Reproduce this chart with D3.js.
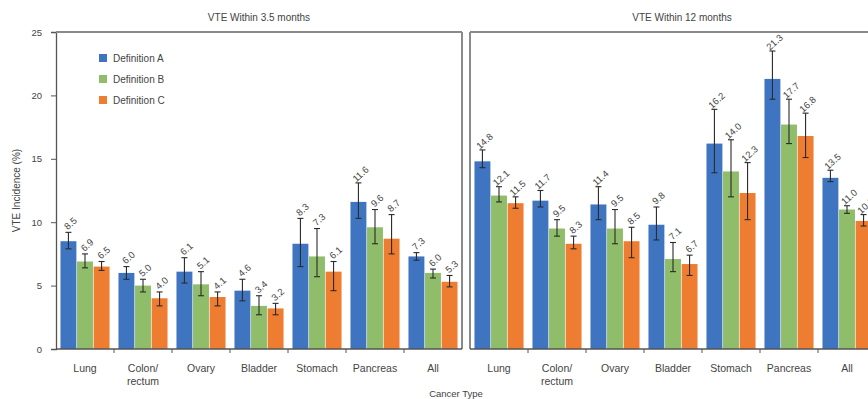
<!DOCTYPE html>
<html>
<head>
<meta charset="utf-8">
<script src="https://cdn.jsdelivr.net/npm/d3@7"></script>
<style>
  html, body { margin: 0; padding: 0; background: #fff; }
  svg { display: block; font-family: "Liberation Sans", Arial, sans-serif; }
</style>
</head>
<body>
<svg id="chart" width="868" height="399"></svg>
<script>
// Cancer types along the x axis
const categories = ["Lung", "Colon/\nrectum", "Ovary", "Bladder", "Stomach", "Pancreas", "All"];
const definitions = ["Definition A", "Definition B", "Definition C"];
const panelTitles = ["VTE Within 3.5 months", "VTE Within 12 months"];
const yTicks = [0, 5, 10, 15, 20, 25];

// VTE incidence (%) within 3.5 months, with 95% CI bounds
const m35A   = [8.5, 6.0, 6.1, 4.6, 8.3, 11.6, 7.3];
const m35ALo = [7.9, 5.5, 5.2, 3.8, 6.5, 10.3, 7.0];
const m35AHi = [9.2, 6.5, 7.2, 5.5, 10.3, 13.1, 7.6];
const m35B   = [6.9, 5.0, 5.1, 3.4, 7.3, 9.6, 6.0];
const m35BLo = [6.4, 4.5, 4.2, 2.7, 5.7, 8.3, 5.6];
const m35BHi = [7.5, 5.5, 6.1, 4.2, 9.5, 11.0, 6.3];
const m35C   = [6.5, 4.0, 4.1, 3.2, 6.1, 8.7, 5.3];
const m35CLo = [6.2, 3.4, 3.4, 2.7, 4.6, 7.5, 4.9];
const m35CHi = [6.9, 4.5, 4.5, 3.6, 6.9, 10.6, 5.8];

// VTE incidence (%) within 12 months, with 95% CI bounds
const m12A   = [14.8, 11.7, 11.4, 9.8, 16.2, 21.3, 13.5];
const m12ALo = [14.3, 11.2, 10.2, 8.6, 13.9, 19.7, 13.2];
const m12AHi = [15.7, 12.5, 12.8, 11.2, 18.9, 23.5, 14.1];
const m12B   = [12.1, 9.5, 9.5, 7.1, 14.0, 17.7, 11.0];
const m12BLo = [11.6, 8.9, 8.3, 6.1, 12.0, 16.2, 10.7];
const m12BHi = [12.8, 10.2, 11.0, 8.4, 16.5, 19.7, 11.3];
const m12C   = [11.5, 8.3, 8.5, 6.7, 12.3, 16.8, 10.1];
const m12CLo = [11.1, 7.9, 7.2, 5.8, 10.2, 15.1, 9.7];
const m12CHi = [12.0, 8.9, 9.6, 7.4, 14.7, 18.6, 10.6];

const colors = ["#3f74c0", "#8fbd6a", "#ee7d32"];

// assemble per-panel series from the arrays above
const panels = [
  { title: panelTitles[0], series: [
      { v: m35A, lo: m35ALo, hi: m35AHi },
      { v: m35B, lo: m35BLo, hi: m35BHi },
      { v: m35C, lo: m35CLo, hi: m35CHi } ] },
  { title: panelTitles[1], series: [
      { v: m12A, lo: m12ALo, hi: m12AHi },
      { v: m12B, lo: m12BLo, hi: m12BHi },
      { v: m12C, lo: m12CLo, hi: m12CHi } ] }
];

const svg = d3.select("#chart");
const plotTop = 32, plotBottom = 349;
const panelX = [[56, 462], [470, 876]];

const y = d3.scaleLinear().domain([0, 25]).range([plotBottom, plotTop]);

// y axis (left panel only)
const yAxis = svg.append("g")
  .attr("transform", `translate(${panelX[0][0]},0)`)
  .call(d3.axisLeft(y).tickValues(yTicks).tickSize(5).tickPadding(9).tickFormat(d3.format("d")));
yAxis.select(".domain").attr("stroke", "#555").attr("stroke-width", 1.3);
yAxis.selectAll(".tick line").attr("stroke", "#555");
yAxis.selectAll(".tick text").attr("fill", "#444").style("font-size", "9.5px");

svg.append("text")
  .attr("transform", `translate(20,${(plotTop + plotBottom) / 2}) rotate(-90)`)
  .attr("text-anchor", "middle")
  .attr("fill", "#444")
  .style("font-size", "10px")
  .text("VTE Incidence (%)");

panels.forEach((panel, pi) => {
  const [x0, x1] = panelX[pi];
  const x = d3.scaleBand().domain(d3.range(categories.length)).range([x0, x1]).paddingInner(0).paddingOuter(0);
  const xs = d3.scaleBand().domain(d3.range(definitions.length)).range([0, x.bandwidth()]).paddingOuter(0.27).paddingInner(0.04);

  const g = svg.append("g");

  // panel frame: top and side borders
  g.append("line").attr("x1", x0).attr("x2", x1).attr("y1", plotTop).attr("y2", plotTop)
    .attr("stroke", "#8a8a8a").attr("stroke-width", 2);
  if (pi === 0) {
    g.append("line").attr("x1", x1).attr("x2", x1).attr("y1", plotTop).attr("y2", plotBottom)
      .attr("stroke", "#8a8a8a").attr("stroke-width", 2);
  } else {
    g.append("line").attr("x1", x0).attr("x2", x0).attr("y1", plotTop).attr("y2", plotBottom)
      .attr("stroke", "#8a8a8a").attr("stroke-width", 2);
  }

  // bars
  panel.series.forEach((s, si) => {
    const bw = xs.bandwidth();
    const cx = i => x(i) + xs(si) + bw / 2;
    g.selectAll(null).data(s.v).enter().append("rect")
      .attr("x", (d, i) => x(i) + xs(si))
      .attr("y", d => y(d))
      .attr("width", bw)
      .attr("height", d => y(0) - y(d))
      .attr("fill", colors[si]);

    // error bars
    const eb = g.selectAll(null).data(s.v.map((d, i) => i)).enter().append("g");
    eb.append("line")
      .attr("x1", i => cx(i)).attr("x2", i => cx(i))
      .attr("y1", i => y(s.lo[i])).attr("y2", i => y(s.hi[i]))
      .attr("stroke", "#2a2a2a").attr("stroke-width", 1.1);
    ["lo", "hi"].forEach(k => {
      eb.append("line")
        .attr("x1", i => cx(i) - 3).attr("x2", i => cx(i) + 3)
        .attr("y1", i => y(s[k][i])).attr("y2", i => y(s[k][i]))
        .attr("stroke", "#2a2a2a").attr("stroke-width", 1.1);
    });

    // value labels
    g.selectAll(null).data(s.v).enter().append("text")
      .attr("transform", (d, i) => `translate(${cx(i) + 2},${y(s.hi[i]) - 9}) rotate(-42)`)
      .attr("text-anchor", "middle")
      .attr("dominant-baseline", "central")
      .attr("fill", "#444")
      .style("font-size", "9.5px")
      .text(d => d3.format(".1f")(d));
  });

  // x axis
  g.append("line").attr("x1", x0).attr("x2", x1).attr("y1", plotBottom).attr("y2", plotBottom)
    .attr("stroke", "#555").attr("stroke-width", 1.3);
  const boundaries = d3.range(1, categories.length).map(i => x(i));
  g.selectAll(null).data(boundaries).enter().append("line")
    .attr("x1", d => d).attr("x2", d => d)
    .attr("y1", plotBottom).attr("y2", plotBottom + 4)
    .attr("stroke", "#555");

  // category labels
  const lbl = g.selectAll(null).data(categories).enter().append("text")
    .attr("text-anchor", "middle")
    .attr("fill", "#444")
    .style("font-size", "10.5px");
  lbl.each(function (d, i) {
    const t = d3.select(this);
    d.split("\n").forEach((line, li) => {
      t.append("tspan")
        .attr("x", x(i) + x.bandwidth() / 2)
        .attr("y", 372 + li * 13)
        .text(line);
    });
  });

  // panel title
  svg.append("text")
    .attr("x", pi === 0 ? 259 : 682)
    .attr("y", 21)
    .attr("text-anchor", "middle")
    .attr("fill", "#444")
    .style("font-size", "10px")
    .text(panel.title);
});

// x axis title
svg.append("text")
  .attr("x", 456).attr("y", 397)
  .attr("text-anchor", "middle")
  .attr("fill", "#444")
  .style("font-size", "9.5px")
  .text("Cancer Type");

// legend
const legend = svg.append("g").attr("transform", "translate(99,54)");
definitions.forEach((name, i) => {
  const row = legend.append("g").attr("transform", `translate(0,${i * 21})`);
  row.append("rect").attr("width", 8).attr("height", 8).attr("fill", colors[i]);
  row.append("text").attr("x", 14).attr("y", 4).attr("dominant-baseline", "central")
    .attr("fill", "#444").style("font-size", "10px").text(name);
});
</script>
</body>
</html>
